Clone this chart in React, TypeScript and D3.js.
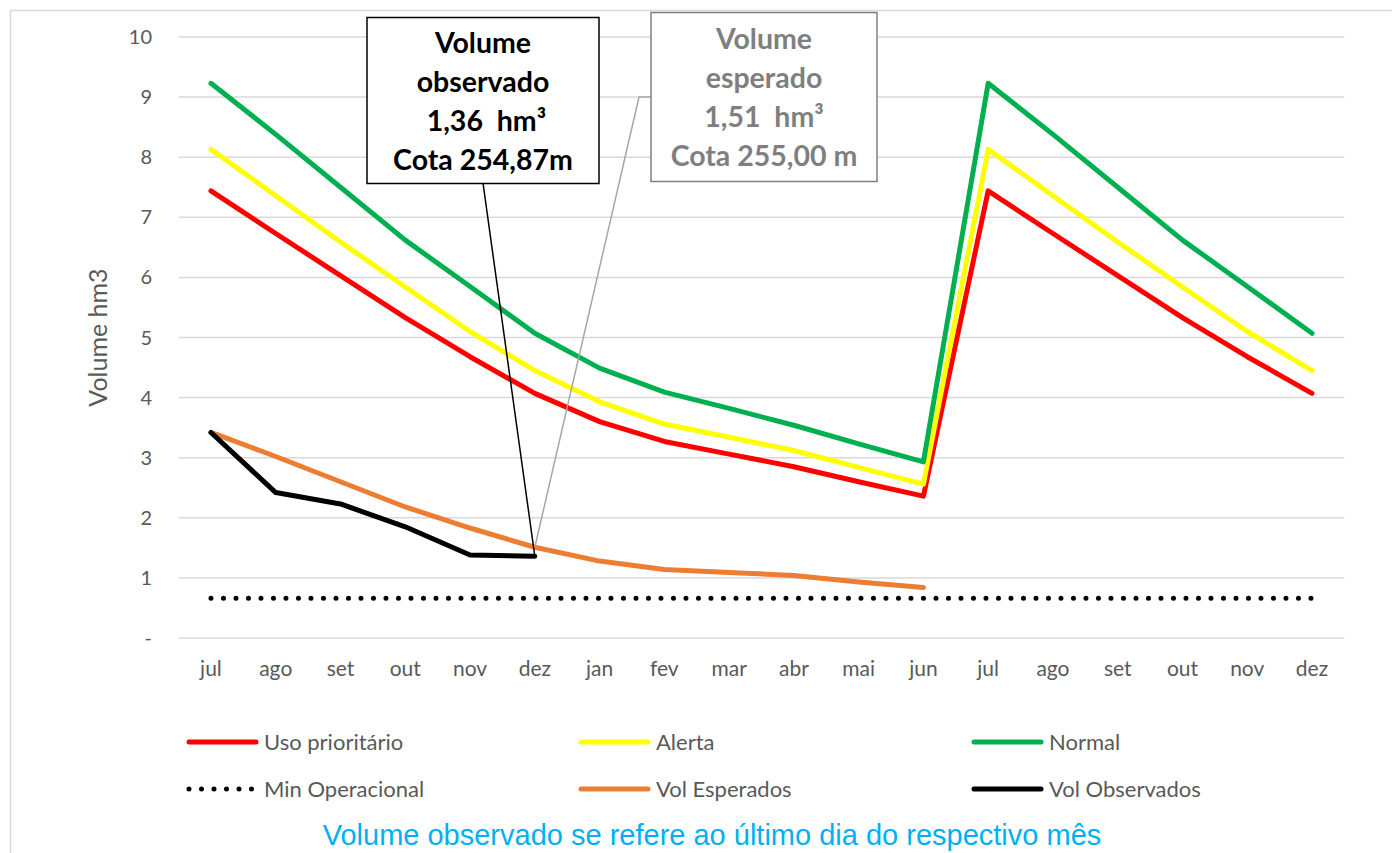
import React, { useRef, useEffect } from 'react';
import * as d3 from 'd3';

// months on the x axis (two hydrological years, jul -> dez)
const months = ['jul', 'ago', 'set', 'out', 'nov', 'dez', 'jan', 'fev', 'mar', 'abr', 'mai', 'jun', 'jul', 'ago', 'set', 'out', 'nov', 'dez'];

// curves in hm3
const usoPrioritario = [7.44, 6.73, 6.03, 5.33, 4.68, 4.07, 3.6, 3.27, 3.06, 2.85, 2.6, 2.36, 7.44, 6.73, 6.03, 5.33, 4.68, 4.07];
const alerta = [8.13, 7.36, 6.59, 5.84, 5.1, 4.45, 3.93, 3.56, 3.34, 3.12, 2.84, 2.56, 8.13, 7.36, 6.59, 5.84, 5.1, 4.45];
const normal = [9.23, 8.38, 7.5, 6.62, 5.85, 5.07, 4.49, 4.09, 3.82, 3.54, 3.23, 2.93, 9.23, 8.38, 7.5, 6.62, 5.85, 5.07];
const minOperacional = [0.66, 0.66, 0.66, 0.66, 0.66, 0.66, 0.66, 0.66, 0.66, 0.66, 0.66, 0.66, 0.66, 0.66, 0.66, 0.66, 0.66, 0.66];
const volEsperados = [3.42, 3.02, 2.6, 2.18, 1.83, 1.51, 1.28, 1.14, 1.09, 1.04, 0.93, 0.84];
const volObservados = [3.42, 2.42, 2.23, 1.85, 1.38, 1.36];

const yTicks = [0, 1, 2, 3, 4, 5, 6, 7, 8, 9, 10];

const series = [
  { name: 'Uso prioritário', values: usoPrioritario, color: '#FF0000', dotted: false },
  { name: 'Alerta', values: alerta, color: '#FFFF00', dotted: false },
  { name: 'Normal', values: normal, color: '#00B050', dotted: false },
  { name: 'Min Operacional', values: minOperacional, color: '#000000', dotted: true },
  { name: 'Vol Esperados', values: volEsperados, color: '#ED7D31', dotted: false },
  { name: 'Vol Observados', values: volObservados, color: '#000000', dotted: false },
];

const obsNote = ['Volume', 'observado', ' 1,36  hm³', 'Cota 254,87m'];
const espNote = ['Volume', 'esperado', '1,51  hm³', 'Cota 255,00 m'];

const FONT = 'Lato, "Open Sans", sans-serif';
const GREY = '#595959';

const App = () => {
  const svgRef = useRef<SVGSVGElement>(null);
  const width = 1392;
  const height = 853;

  useEffect(() => {
    const svg = d3.select(svgRef.current);
    svg.selectAll('*').remove();

    const left = 178.6;
    const right = 1344.4;
    const top = 37;
    const bottom = 638;

    const x = d3.scalePoint<number>()
      .domain(months.map((_, i) => i))
      .range([left, right])
      .padding(0.5);

    const y = d3.scaleLinear().domain([0, 10]).range([bottom, top]);

    // outer frame
    svg.append('rect')
      .attr('x', 10.5).attr('y', 10.5)
      .attr('width', width).attr('height', height)
      .attr('fill', '#fff')
      .attr('stroke', '#d9d9d9')
      .attr('stroke-width', 1.5);

    // grid
    svg.append('g')
      .selectAll('line')
      .data(yTicks)
      .enter()
      .append('line')
      .attr('x1', left).attr('x2', right)
      .attr('y1', d => y(d)).attr('y2', d => y(d))
      .attr('stroke', '#d9d9d9')
      .attr('stroke-width', 1.5);

    // y axis labels
    svg.append('g')
      .selectAll('text')
      .data(yTicks)
      .enter()
      .append('text')
      .attr('x', 152)
      .attr('y', d => y(d))
      .attr('dy', '0.35em')
      .attr('text-anchor', 'end')
      .attr('font-family', FONT)
      .attr('font-size', 20)
      .attr('fill', GREY)
      .text(d => (d === 0 ? '-' : String(d)));

    svg.append('text')
      .attr('transform', `translate(107,${(top + bottom) / 2}) rotate(-90)`)
      .attr('text-anchor', 'middle')
      .attr('font-family', FONT)
      .attr('font-size', 25)
      .attr('fill', GREY)
      .text('Volume hm3');

    // x axis labels
    svg.append('g')
      .selectAll('text')
      .data(months)
      .enter()
      .append('text')
      .attr('x', (_, i) => x(i)!)
      .attr('y', 676)
      .attr('text-anchor', 'middle')
      .attr('font-family', FONT)
      .attr('font-size', 21)
      .attr('fill', GREY)
      .text(d => d);

    const line = d3.line<number>()
      .x((_, i) => x(i)!)
      .y(d => y(d));

    // lines
    series.forEach(s => {
      const p = svg.append('path')
        .datum(s.values)
        .attr('fill', 'none')
        .attr('stroke', s.color)
        .attr('stroke-width', 5)
        .attr('stroke-linejoin', 'round')
        .attr('stroke-linecap', 'round')
        .attr('d', line);
      if (s.dotted) p.attr('stroke-dasharray', '0 12.5');
    });

    // annotation: observed
    const obsIdx = volObservados.length - 1;
    const ox = x(obsIdx)!;
    svg.append('line')
      .attr('x1', 483).attr('y1', 183)
      .attr('x2', ox).attr('y2', y(volObservados[obsIdx]))
      .attr('stroke', '#000').attr('stroke-width', 1.5);
    svg.append('rect')
      .attr('x', 367).attr('y', 17.5).attr('width', 232).attr('height', 166)
      .attr('fill', '#fff').attr('stroke', '#000').attr('stroke-width', 1.5);
    svg.append('g')
      .selectAll('text')
      .data(obsNote)
      .enter()
      .append('text')
      .attr('x', 483)
      .attr('y', (_, i) => 53 + i * 39)
      .attr('text-anchor', 'middle')
      .attr('font-family', FONT)
      .attr('font-weight', 'bold')
      .attr('font-size', 28.5)
      .attr('fill', '#000')
      .style('white-space', 'pre')
      .text(d => d);

    // annotation: expected
    const espIdx = 5;
    svg.append('polyline')
      .attr('points', `651,97 639,97 ${x(espIdx)},${y(volEsperados[espIdx])}`)
      .attr('fill', 'none')
      .attr('stroke', '#a6a6a6').attr('stroke-width', 1.5);
    svg.append('rect')
      .attr('x', 651).attr('y', 12.5).attr('width', 226).attr('height', 169)
      .attr('fill', '#fff').attr('stroke', '#7f7f7f').attr('stroke-width', 1.5);
    svg.append('g')
      .selectAll('text')
      .data(espNote)
      .enter()
      .append('text')
      .attr('x', 764)
      .attr('y', (_, i) => 49 + i * 39)
      .attr('text-anchor', 'middle')
      .attr('font-family', FONT)
      .attr('font-weight', 'bold')
      .attr('font-size', 28.5)
      .attr('fill', '#7f7f7f')
      .style('white-space', 'pre')
      .text(d => d);

    // legend
    const legendX = [187, 579, 972];
    const legendY = [742, 789];
    series.forEach((s, i) => {
      const lx = legendX[i % 3];
      const ly = legendY[Math.floor(i / 3)];
      const g = svg.append('g').attr('transform', `translate(${lx},${ly})`);
      const l = g.append('line')
        .attr('x1', 2).attr('x2', s.dotted ? 66 : 69)
        .attr('y1', 0).attr('y2', 0)
        .attr('stroke', s.color)
        .attr('stroke-width', 5)
        .attr('stroke-linecap', 'round');
      if (s.dotted) l.attr('stroke-dasharray', '0 12.5');
      g.append('text')
        .attr('x', 77)
        .attr('y', 0)
        .attr('dy', '0.35em')
        .attr('font-family', FONT)
        .attr('font-size', 22)
        .attr('fill', GREY)
        .text(s.name);
    });

    // footnote
    svg.append('text')
      .attr('x', 712)
      .attr('y', 845)
      .attr('text-anchor', 'middle')
      .attr('font-family', '"Liberation Sans", Arial, sans-serif')
      .attr('font-size', 29)
      .attr('fill', '#00B0F0')
      .text('Volume observado se refere ao último dia do respectivo mês');
  }, []);

  return (
    <svg
      ref={svgRef}
      width={width}
      height={height}
      style={{ position: 'absolute', left: 0, top: 0, display: 'block', background: '#fff' }}
    />
  );
};

export default App;
